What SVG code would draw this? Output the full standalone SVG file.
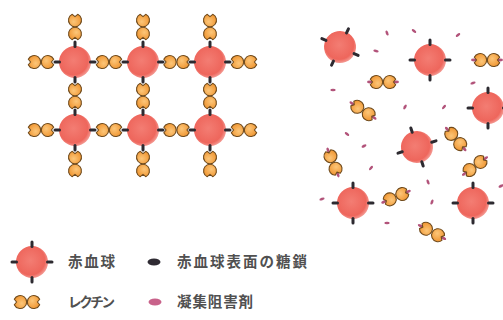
<svg xmlns="http://www.w3.org/2000/svg" width="503" height="320" viewBox="0 0 503 320">
  <defs>
    <radialGradient id="rbcFill" cx="0.45" cy="0.45" r="0.55">
      <stop offset="0" stop-color="#f37d73"/>
      <stop offset="0.82" stop-color="#ee665c"/>
      <stop offset="1" stop-color="#ee665c" stop-opacity="0.7"/>
    </radialGradient>
    <radialGradient id="lecFill" cx="0.4" cy="0.4" r="0.65">
      <stop offset="0" stop-color="#fcc679"/>
      <stop offset="1" stop-color="#f09632"/>
    </radialGradient>
    <style>
      .gly{fill:#2d2a30}
      .lec{fill:url(#lecFill);stroke:#6f4a1c;stroke-width:1.1;stroke-linejoin:round}
      .inh{fill:#b2537a}
      .lbl{font-family:"Noto Sans CJK JP","Noto Sans CJK SC",sans-serif;font-size:14.5px;font-weight:700;fill:#505050}
    </style>
    <!-- lectin monomer: disc with a small binding pocket facing +x -->
    <path id="mono" class="lec" d="M5.9,-2.75 A6.5,6.5 0 1 0 5.9,2.75 L3.6,0 Z"/>
    <!-- lectin dimer, pockets facing outward along the x axis -->
    <g id="dimer">
      <use href="#mono" transform="translate(6.8,0)"/>
      <use href="#mono" transform="translate(-6.8,0) rotate(180)"/>
    </g>
    <!-- dimer with inhibitor sitting in both pockets -->
    <g id="dimerBound">
      <ellipse class="inh" cx="13.2" cy="0" rx="2.8" ry="1.4"/>
      <ellipse class="inh" cx="-13.2" cy="0" rx="2.8" ry="1.4"/>
      <use href="#dimer"/>
    </g>
    <!-- red blood cell with four surface glycans -->
    <g id="rbc">
      <circle r="16" fill="url(#rbcFill)"/>
      <rect class="gly" x="-1.5" y="-21.5" width="3" height="7.5" rx="1.5"/>
      <rect class="gly" x="-1.5" y="14" width="3" height="7.5" rx="1.5"/>
      <rect class="gly" x="14" y="-1.5" width="7.5" height="3" rx="1.5"/>
      <rect class="gly" x="-21.5" y="-1.5" width="7.5" height="3" rx="1.5"/>
    </g>
    <ellipse id="inhib" class="inh" rx="2.7" ry="1.3"/>
  </defs>

  <rect width="503" height="320" fill="#ffffff"/>

  <!-- agglutinated cells cross-linked by lectins -->
  <g id="agglutination">
    <g id="grid-lectins">
      <use href="#dimer" transform="translate(41,62)"/>
      <use href="#dimer" transform="translate(109,62)"/>
      <use href="#dimer" transform="translate(176.5,62)"/>
      <use href="#dimer" transform="translate(244,62)"/>
      <use href="#dimer" transform="translate(41,130)"/>
      <use href="#dimer" transform="translate(109,130)"/>
      <use href="#dimer" transform="translate(176.5,130)"/>
      <use href="#dimer" transform="translate(244,130)"/>
      <use href="#dimer" transform="translate(75,27) rotate(90)"/>
      <use href="#dimer" transform="translate(143,27) rotate(90)"/>
      <use href="#dimer" transform="translate(210,27) rotate(90)"/>
      <use href="#dimer" transform="translate(75,96) rotate(90)"/>
      <use href="#dimer" transform="translate(143,96) rotate(90)"/>
      <use href="#dimer" transform="translate(210,96) rotate(90)"/>
      <use href="#dimer" transform="translate(75,164) rotate(90)"/>
      <use href="#dimer" transform="translate(143,164) rotate(90)"/>
      <use href="#dimer" transform="translate(210,164) rotate(90)"/>
    </g>
    <g id="grid-cells">
      <use href="#rbc" transform="translate(75,62)"/>
      <use href="#rbc" transform="translate(143,62)"/>
      <use href="#rbc" transform="translate(210,62)"/>
      <use href="#rbc" transform="translate(75,130)"/>
      <use href="#rbc" transform="translate(143,130)"/>
      <use href="#rbc" transform="translate(210,130)"/>
    </g>
  </g>

  <!-- dispersed cells: lectins blocked by inhibitor -->
  <g id="dispersed">
    <g id="free-inhibitor">
      <use href="#inhib" transform="translate(387,33) rotate(70)"/>
      <use href="#inhib" transform="translate(414,31) rotate(40)"/>
      <use href="#inhib" transform="translate(458,35) rotate(-40)"/>
      <use href="#inhib" transform="translate(376,51) rotate(10)"/>
      <use href="#inhib" transform="translate(333,90) rotate(0)"/>
      <use href="#inhib" transform="translate(405,107) rotate(-60)"/>
      <use href="#inhib" transform="translate(444,107) rotate(-50)"/>
      <use href="#inhib" transform="translate(473,83) rotate(-20)"/>
      <use href="#inhib" transform="translate(347,134) rotate(40)"/>
      <use href="#inhib" transform="translate(364,146) rotate(-30)"/>
      <use href="#inhib" transform="translate(371,168) rotate(-50)"/>
      <use href="#inhib" transform="translate(322,199) rotate(-20)"/>
      <use href="#inhib" transform="translate(428,182) rotate(70)"/>
      <use href="#inhib" transform="translate(432,202) rotate(-70)"/>
      <use href="#inhib" transform="translate(387,223) rotate(0)"/>
      <use href="#inhib" transform="translate(501,186) rotate(-30)"/>
    </g>
    <g id="blocked-lectins">
      <use href="#dimerBound" transform="translate(487,60)"/>
      <use href="#dimerBound" transform="translate(383,82)"/>
      <use href="#dimerBound" transform="translate(363,110.5) rotate(33)"/>
      <use href="#dimerBound" transform="translate(455.7,139) rotate(49)"/>
      <use href="#dimerBound" transform="translate(475,166) rotate(-36)"/>
      <use href="#dimerBound" transform="translate(333,162.5) rotate(68)"/>
      <use href="#dimerBound" transform="translate(396,196.7) rotate(-23)"/>
      <use href="#dimerBound" transform="translate(432,232) rotate(28)"/>
    </g>
    <g id="free-cells">
      <use href="#rbc" transform="translate(340,47) rotate(25)"/>
      <use href="#rbc" transform="translate(430,60)"/>
      <use href="#rbc" transform="translate(488,108)"/>
      <use href="#rbc" transform="translate(417,147) rotate(-18)"/>
      <use href="#rbc" transform="translate(353,203)"/>
      <use href="#rbc" transform="translate(473,203)"/>
    </g>
  </g>

  <!-- key -->
  <g id="legend">
    <g id="key-rbc">
      <use href="#rbc" transform="translate(32,262)"/>
      <text class="lbl" x="68" y="267" textLength="47" lengthAdjust="spacing">赤血球</text>
    </g>
    <g id="key-glycan">
      <ellipse cx="154" cy="262" rx="6.5" ry="3.5" fill="#2f2b33"/>
      <text class="lbl" x="177" y="267" textLength="130" lengthAdjust="spacing">赤血球表面の糖鎖</text>
    </g>
    <g id="key-lectin">
      <use href="#dimer" transform="translate(27,302)"/>
      <text class="lbl" x="68" y="307" style="font-size:13.5px" textLength="47" lengthAdjust="spacing">レクチン</text>
    </g>
    <g id="key-inhibitor">
      <ellipse cx="155" cy="302" rx="6.5" ry="3.5" fill="#c8628a"/>
      <text class="lbl" x="177" y="307" textLength="76" lengthAdjust="spacing">凝集阻害剤</text>
    </g>
  </g>
</svg>
